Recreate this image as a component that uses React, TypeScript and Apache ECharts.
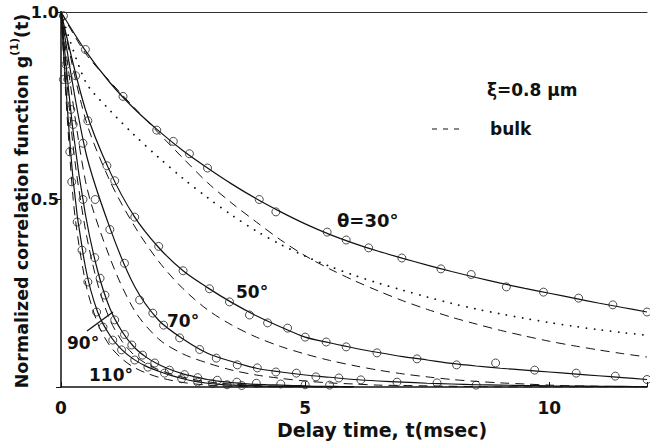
import React, { useEffect, useRef } from "react";
import * as echarts from "echarts";

// ---- data ----
// slow curves sampled every 0.5 ms from 0 to 12
const T_SLOW = [0, 0.5, 1, 1.5, 2, 2.5, 3, 3.5, 4, 4.5, 5, 5.5, 6, 6.5, 7, 7.5, 8, 8.5, 9, 9.5, 10, 10.5, 11, 11.5, 12];
// fast curves sampled every 0.25 ms from 0 to 6
const T_FAST = [0, 0.25, 0.5, 0.75, 1, 1.25, 1.5, 1.75, 2, 2.25, 2.5, 2.75, 3, 3.25, 3.5, 3.75, 4, 4.25, 4.5, 4.75, 5, 5.25, 5.5, 5.75, 6];

const fit30 = [1, 0.897, 0.812, 0.742, 0.683, 0.63, 0.584, 0.541, 0.502, 0.467, 0.435, 0.407, 0.383, 0.362, 0.343, 0.325, 0.308, 0.292, 0.277, 0.263, 0.25, 0.237, 0.224, 0.212, 0.2];
const dotted30 = [1, 0.815, 0.738, 0.672, 0.612, 0.556, 0.505, 0.458, 0.416, 0.38, 0.349, 0.322, 0.298, 0.277, 0.258, 0.24, 0.223, 0.208, 0.195, 0.183, 0.172, 0.162, 0.153, 0.145, 0.138];
const bulk30 = [1, 0.89, 0.815, 0.745, 0.677, 0.61, 0.545, 0.49, 0.44, 0.392, 0.35, 0.315, 0.284, 0.256, 0.23, 0.207, 0.186, 0.168, 0.151, 0.136, 0.122, 0.11, 0.099, 0.089, 0.08];
const fit50 = [1, 0.74, 0.575, 0.455, 0.372, 0.31, 0.265, 0.225, 0.19, 0.16, 0.133, 0.118, 0.104, 0.092, 0.081, 0.072, 0.063, 0.056, 0.05, 0.045, 0.04, 0.035, 0.03, 0.025, 0.02];
const bulk50 = [1, 0.715, 0.55, 0.43, 0.335, 0.262, 0.206, 0.165, 0.133, 0.108, 0.088, 0.071, 0.057, 0.045, 0.035, 0.027, 0.02, 0.015, 0.011, 0.008, 0.005, 0.003, 0.002, 0.001, 0];
const fit70 = [1, 0.63, 0.425, 0.27, 0.178, 0.128, 0.09, 0.068, 0.05, 0.04, 0.032, 0.026, 0.02, 0.016, 0.013, 0.01, 0.008, 0.006, 0.005, 0.004, 0.003, 0.0025, 0.002, 0.0015, 0.001];
const bulk70 = [1, 0.55, 0.345, 0.205, 0.128, 0.088, 0.064, 0.045, 0.032, 0.023, 0.016, 0.011, 0.008, 0.005, 0.004, 0.003, 0.002, 0.001, 0, 0, 0, 0, 0, 0, 0];
const fit90 = [1, 0.68, 0.46, 0.31, 0.21, 0.148, 0.106, 0.079, 0.06, 0.046, 0.035, 0.027, 0.02, 0.015, 0.012, 0.009, 0.007, 0.006, 0.005, 0.004, 0.003, 0.002, 0.002, 0.001, 0.001];
const bulk90 = [1, 0.64, 0.42, 0.275, 0.18, 0.122, 0.085, 0.062, 0.046, 0.035, 0.026, 0.019, 0.014, 0.01, 0.008, 0.006, 0.004, 0.003, 0.002, 0.0015, 0.001, 0.001, 0, 0, 0];
const fit110 = [1, 0.55, 0.32, 0.2, 0.138, 0.099, 0.073, 0.055, 0.042, 0.031, 0.022, 0.015, 0.01, 0.007, 0.005, 0.004, 0.003, 0.002, 0.0015, 0.001, 0.001, 0, 0, 0, 0];
const bulk110 = [1, 0.5, 0.28, 0.17, 0.11, 0.075, 0.052, 0.037, 0.026, 0.018, 0.012, 0.008, 0.005, 0.003, 0.002, 0.001, 0.001, 0, 0, 0, 0, 0, 0, 0, 0];

// measured points (t in msec, g)
const pts30 = [[0.05, 0.99], [0.5, 0.9], [1.27, 0.775], [1.96, 0.685], [2.3, 0.655], [2.63, 0.622], [3.0, 0.584], [4.06, 0.5], [4.4, 0.467], [5.45, 0.413], [5.84, 0.392], [6.3, 0.371], [6.98, 0.344], [7.78, 0.315], [8.4, 0.3], [9.12, 0.267], [9.88, 0.253], [10.6, 0.237], [11.3, 0.219], [12.0, 0.2]];
const pts50 = [[0.3, 0.83], [0.55, 0.71], [0.94, 0.59], [1.1, 0.55], [1.51, 0.453], [2.0, 0.375], [2.5, 0.31], [3.04, 0.262], [3.45, 0.227], [3.86, 0.192], [4.23, 0.171], [4.64, 0.157], [5.0, 0.133], [5.43, 0.12], [5.84, 0.107], [6.47, 0.091], [7.29, 0.075], [8.1, 0.059], [8.9, 0.064], [9.7, 0.045], [10.55, 0.037], [11.35, 0.029], [12.0, 0.02]];
const pts70 = [[0.2, 0.74], [0.45, 0.65], [0.7, 0.5], [1.0, 0.42], [1.3, 0.33], [1.61, 0.232], [1.88, 0.197], [2.1, 0.165], [2.43, 0.131], [2.84, 0.1], [3.18, 0.077], [3.61, 0.059], [4.02, 0.051], [4.4, 0.04], [4.82, 0.037], [5.22, 0.027], [5.69, 0.024], [6.14, 0.019], [6.88, 0.013], [7.7, 0.011], [8.5, 0.005]];
const pts90 = [[0.1, 0.86], [0.25, 0.7], [0.45, 0.5], [0.69, 0.345], [0.8, 0.29], [0.9, 0.245], [1.1, 0.179], [1.3, 0.14], [1.45, 0.112], [1.67, 0.085], [1.92, 0.064], [2.22, 0.045], [2.53, 0.033], [2.8, 0.025], [3.2, 0.018], [3.6, 0.013], [4.0, 0.01], [4.5, 0.008], [5.0, 0.006], [5.5, 0.005]];
const pts110 = [[0.05, 0.82], [0.14, 0.82], [0.18, 0.627], [0.22, 0.547], [0.33, 0.44], [0.43, 0.365], [0.55, 0.28], [0.73, 0.2], [0.86, 0.16], [1.06, 0.125], [1.24, 0.099], [1.51, 0.072], [1.78, 0.053], [2.12, 0.037], [2.47, 0.022], [2.8, 0.013], [3.1, 0.009], [3.4, 0.006], [3.7, 0.004]];

const xTicks = [0, 5, 10];
const yTickLabels = ["1.0", "0.5"];

const INK = "#111";

function pairs(ts: number[], ys: number[]) {
  return ts.map((t, i) => [t, ys[i]]);
}

export default function App() {
  const ref = useRef<HTMLDivElement>(null);
  useEffect(() => {
    if (!ref.current) return;
    const chart = echarts.init(ref.current, undefined, { renderer: "svg" });
    const font = "DejaVu Sans";
    const solid = (name: string, ts: number[], ys: number[]) => ({
      name, type: "line", data: pairs(ts, ys), showSymbol: false, smooth: 0.3,
      lineStyle: { color: INK, width: 1.2 }, z: 3,
    });
    const dashed = (name: string, ts: number[], ys: number[]) => ({
      name, type: "line", data: pairs(ts, ys), showSymbol: false, smooth: 0.3,
      lineStyle: { color: INK, width: 1, type: [9, 6] }, z: 2,
    });
    const scatter = (name: string, d: number[][]) => ({
      name, type: "scatter", data: d, symbol: "circle", symbolSize: 8,
      itemStyle: { color: "rgba(255,255,255,0)", borderColor: "#222", borderWidth: 1 }, z: 4,
    });
    chart.setOption({
      animation: false,
      backgroundColor: "#fff",
      grid: { left: 61, right: 1, top: 12, bottom: 55 },
      xAxis: [
        {
          type: "value", min: 0, max: 12, interval: 5,
          axisLine: { lineStyle: { color: INK, width: 1.5 } },
          axisTick: { inside: true, length: 5, lineStyle: { color: INK } },
          splitLine: { show: false },
          axisLabel: {
            color: INK, fontFamily: font, fontWeight: "bold", fontSize: 17, margin: 12,
            formatter: (v: number) => (xTicks.includes(v) ? String(v) : ""),
          },
        },
        {
          type: "value", min: 0, max: 12, position: "top",
          axisLine: { show: true, lineStyle: { color: "#333", width: 1.2 } },
          axisTick: { show: false }, axisLabel: { show: false }, splitLine: { show: false },
        },
      ],
      yAxis: {
        type: "value", min: 0, max: 1, interval: 0.5,
        axisLine: { show: true, lineStyle: { color: INK, width: 1.5 } },
        axisTick: { show: true, length: 5, lineStyle: { color: INK } },
        splitLine: { show: false },
        axisLabel: {
          color: INK, fontFamily: font, fontWeight: "bold", fontSize: 16, margin: 2,
          formatter: (v: number) => (v === 1 ? yTickLabels[0] : v === 0.5 ? yTickLabels[1] : ""),
        },
      },
      series: [
        solid("fit 30", T_SLOW, fit30),
        { name: "dotted 30", type: "line", data: pairs(T_SLOW, dotted30), showSymbol: false, smooth: 0.3,
          lineStyle: { color: INK, width: 1.8, type: [0.1, 8], cap: "round" }, z: 2 },
        dashed("bulk 30", T_SLOW, bulk30),
        solid("fit 50", T_SLOW, fit50),
        dashed("bulk 50", T_SLOW, bulk50),
        solid("fit 70", T_SLOW, fit70),
        dashed("bulk 70", T_SLOW, bulk70),
        solid("fit 90", T_FAST, fit90),
        dashed("bulk 90", T_FAST, bulk90),
        solid("fit 110", T_FAST, fit110),
        dashed("bulk 110", T_FAST, bulk110),
        scatter("pts 30", pts30),
        scatter("pts 50", pts50),
        scatter("pts 70", pts70),
        scatter("pts 90", pts90),
        scatter("pts 110", pts110),
      ],
      graphic: [
        { type: "text", x: 382, y: 430, style: { text: "Delay time, t(msec)", font: `bold 19px "${font}"`, fill: INK, textAlign: "center", textVerticalAlign: "middle" } },
        { type: "text", x: 20, y: 201, rotation: Math.PI / 2,
          style: {
            text: "{a|Normalized correlation function g}{s|(1)}{a|(t)}",
            fill: INK, align: "center", verticalAlign: "middle",
            rich: {
              a: { fontFamily: font, fontWeight: "bold", fontSize: 17.5, lineHeight: 22, fill: INK, verticalAlign: "bottom" },
              s: { fontFamily: font, fontWeight: "bold", fontSize: 11, lineHeight: 22, fill: INK, verticalAlign: "top" },
            },
          } },
        { type: "text", x: 337, y: 220, style: { text: "θ=30°", font: `bold 18px "${font}"`, fill: INK, textVerticalAlign: "middle" } },
        { type: "text", x: 236, y: 292, style: { text: "50°", font: `bold 17px "${font}"`, fill: INK, textVerticalAlign: "middle" } },
        { type: "text", x: 167, y: 321, style: { text: "70°", font: `bold 17px "${font}"`, fill: INK, textVerticalAlign: "middle" } },
        { type: "text", x: 67, y: 343, style: { text: "90°", font: `bold 17px "${font}"`, fill: INK, textVerticalAlign: "middle" } },
        { type: "text", x: 89, y: 375, style: { text: "110°", font: `bold 17px "${font}"`, fill: INK, textVerticalAlign: "middle" } },
        { type: "line", shape: { x1: 87, y1: 331, x2: 113, y2: 312 }, style: { stroke: INK, lineWidth: 1.3 } },
        { type: "text", x: 487, y: 90, style: { text: "ξ=0.8 μm", font: `bold 17px "${font}"`, fill: INK, textVerticalAlign: "middle" } },
        { type: "line", shape: { x1: 432, y1: 129, x2: 464, y2: 129 }, style: { stroke: INK, lineWidth: 1.2, lineDash: [5, 6] } },
        { type: "text", x: 490, y: 129, style: { text: "bulk", font: `bold 17px "${font}"`, fill: INK, textVerticalAlign: "middle" } },
      ],
    });
    return () => chart.dispose();
  }, []);
  return <div ref={ref} style={{ width: 650, height: 442, position: "absolute", left: 0, top: 0 }} />;
}
